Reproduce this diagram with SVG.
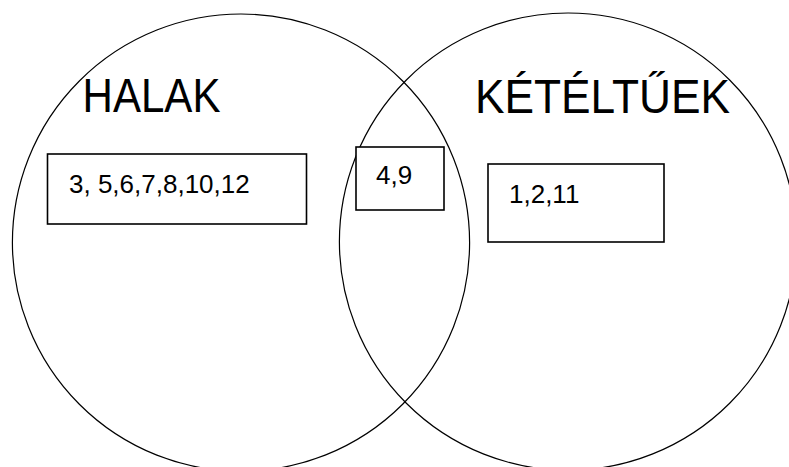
<svg xmlns="http://www.w3.org/2000/svg" width="789" height="467" viewBox="0 0 789 467">
<style>
.set{fill:none;stroke:#000;stroke-width:1.2}
.box{fill:#fff;stroke:#000;stroke-width:1.6}
.title{font-family:"Liberation Sans",Arial,sans-serif;font-size:49px;fill:#000}
.num{font-family:"Liberation Sans",Arial,sans-serif;font-size:26px;fill:#000}
</style>
<rect width="789" height="467" fill="#fff"/>
<g id="set-halak">
<circle class="set" cx="241" cy="242.6" r="228.6"/>
<text class="title" x="82.5" y="112" textLength="138" lengthAdjust="spacingAndGlyphs">HALAK</text>
</g>
<g id="set-keteltuek">
<circle class="set" cx="568" cy="241.6" r="228.6"/>
<text class="title" x="475" y="113" textLength="255" lengthAdjust="spacingAndGlyphs">KÉTÉLTŰEK</text>
</g>
<g id="box-halak">
<rect class="box" x="47.5" y="154" width="259" height="70"/>
<text class="num" x="69" y="193">3, 5,6,7,8,10,12</text>
</g>
<g id="box-both">
<rect class="box" x="356" y="147" width="88" height="63"/>
<text class="num" x="376" y="184">4,9</text>
</g>
<g id="box-keteltuek">
<rect class="box" x="488" y="164" width="176" height="78"/>
<text class="num" x="509" y="203">1,2,11</text>
</g>
</svg>
